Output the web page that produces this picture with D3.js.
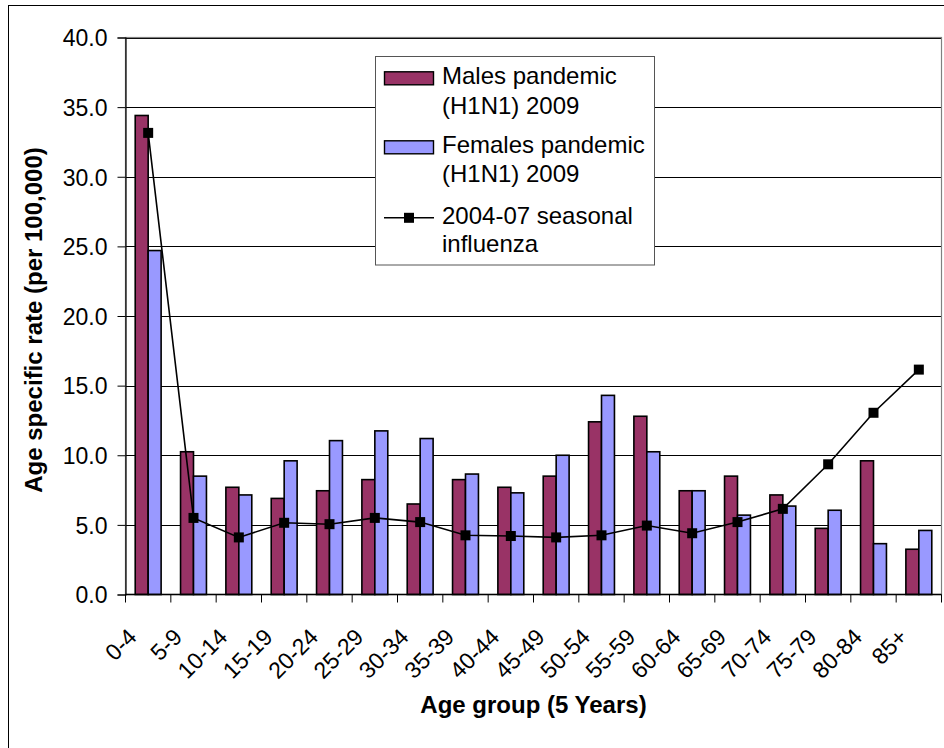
<!DOCTYPE html>
<html>
<head>
<meta charset="utf-8">
<script src="https://cdn.jsdelivr.net/npm/d3@7"></script>
<style>
  html, body { margin: 0; padding: 0; background: #fff; }
  svg { display: block; font-family: "Liberation Sans", Arial, sans-serif; }
</style>
</head>
<body>
<svg id="chart" width="944" height="748"></svg>
<script>
// Age-specific rates per 100,000, by 5-year age group
const ageGroups = ["0-4","5-9","10-14","15-19","20-24","25-29","30-34","35-39","40-44",
  "45-49","50-54","55-59","60-64","65-69","70-74","75-79","80-84","85+"];
const malesH1N1 = [34.4, 10.25, 7.7, 6.9, 7.45, 8.25, 6.5, 8.25, 7.7,
  8.5, 12.4, 12.8, 7.45, 8.5, 7.15, 4.75, 9.6, 3.25];
const femalesH1N1 = [24.7, 8.5, 7.15, 9.6, 11.05, 11.75, 11.2, 8.65, 7.3,
  10.0, 14.3, 10.25, 7.45, 5.7, 6.35, 6.05, 3.65, 4.6];
const seasonal0407 = [33.15, 5.5, 4.1, 5.15, 5.05, 5.5, 5.2, 4.25, 4.2,
  4.1, 4.25, 4.95, 4.4, 5.2, 6.15, 9.35, 13.05, 16.15];
const yTicks = [0, 5, 10, 15, 20, 25, 30, 35, 40];

const seriesNames = ["Males pandemic\n(H1N1) 2009", "Females pandemic\n(H1N1) 2009", "2004-07 seasonal\ninfluenza"];
const barColors = ["#993366", "#9999FF"];

const svg = d3.select("#chart");
const plot = { left: 125.5, right: 941.5, top: 37.5, bottom: 594.5 };

// Outer chart frame
svg.append("rect")
  .attr("x", 8.5).attr("y", 5.5)
  .attr("width", 960).attr("height", 760)
  .attr("fill", "none").attr("stroke", "#000").attr("stroke-width", 1);

const x = d3.scaleBand().domain(ageGroups).range([plot.left, plot.right]).padding(0);
// Excel-style 150% gap: the pair of bars takes 2/3.5 of the band
const step = x.bandwidth();
const groupW = step * 2 / 3.5;
const xs = d3.scaleBand().domain([0, 1]).range([(step - groupW) / 2, (step + groupW) / 2]).padding(0);
const y = d3.scaleLinear().domain([0, 40]).range([plot.bottom, plot.top]);

// Horizontal gridlines
svg.append("g").selectAll("line")
  .data(yTicks.filter(t => t > 0))
  .join("line")
  .attr("x1", plot.left).attr("x2", plot.right)
  .attr("y1", d => Math.round(y(d)) + 0.5).attr("y2", d => Math.round(y(d)) + 0.5)
  .attr("stroke", "#000").attr("stroke-width", 1);

// Plot area border
svg.append("rect")
  .attr("x", plot.left).attr("y", plot.top)
  .attr("width", plot.right - plot.left).attr("height", plot.bottom - plot.top)
  .attr("fill", "none").attr("stroke", "#808080").attr("stroke-width", 1.2);

// Bars
const barData = [];
ageGroups.forEach((g, i) => {
  barData.push({ g, s: 0, v: malesH1N1[i] });
  barData.push({ g, s: 1, v: femalesH1N1[i] });
});
svg.append("g").selectAll("rect")
  .data(barData)
  .join("rect")
  .attr("x", d => x(d.g) + xs(d.s))
  .attr("width", xs.bandwidth())
  .attr("y", d => y(d.v))
  .attr("height", d => y(0) - y(d.v))
  .attr("fill", d => barColors[d.s])
  .attr("stroke", "#000").attr("stroke-width", 1.6);

// Y axis
const yAxis = d3.axisLeft(y).tickValues(yTicks).tickFormat(d3.format(".1f")).tickSize(8).tickPadding(10);
const gy = svg.append("g").attr("transform", `translate(${plot.left},0)`).call(yAxis);
gy.select(".domain").attr("stroke", "#000").attr("stroke-width", 1.2);
gy.selectAll(".tick line").attr("stroke", "#000");
gy.selectAll(".tick text").attr("font-size", 23).attr("fill", "#000")
  .attr("font-family", "Liberation Sans, Arial, sans-serif").attr("dy", "0.36em");

// X axis: ticks at band boundaries
const gx = svg.append("g").attr("transform", `translate(0,${plot.bottom})`);
gx.append("line").attr("x1", plot.left).attr("x2", plot.right).attr("y1", 0).attr("y2", 0)
  .attr("stroke", "#000").attr("stroke-width", 1.4);
gx.selectAll("line.tk")
  .data(ageGroups.concat(["end"]))
  .join("line").attr("class", "tk")
  .attr("x1", (d, i) => i < ageGroups.length ? x(d) : plot.right)
  .attr("x2", (d, i) => i < ageGroups.length ? x(d) : plot.right)
  .attr("y1", 0).attr("y2", 8)
  .attr("stroke", "#000").attr("stroke-width", 1);
gx.selectAll("text")
  .data(ageGroups)
  .join("text")
  .attr("transform", d => `translate(${x(d) + step / 2 - 10},${44}) rotate(-45)`)
  .attr("text-anchor", "end")
  .attr("font-size", 23).attr("fill", "#000")
  .text(d => d);

// Seasonal influenza line with square markers
const cx = d => x(d) + step / 2;
const linePts = ageGroups.map((g, i) => [cx(g), y(seasonal0407[i])]);
svg.append("path")
  .attr("d", d3.line()(linePts))
  .attr("fill", "none").attr("stroke", "#000").attr("stroke-width", 1.6);
svg.append("g").selectAll("rect")
  .data(linePts)
  .join("rect")
  .attr("x", d => d[0] - 5).attr("y", d => d[1] - 5)
  .attr("width", 10).attr("height", 10)
  .attr("fill", "#000");

// Axis titles
svg.append("text")
  .attr("x", (plot.left + plot.right) / 2).attr("y", 713)
  .attr("text-anchor", "middle").attr("font-size", 24).attr("font-weight", "bold")
  .text("Age group (5 Years)");
svg.append("text")
  .attr("transform", `translate(42,${(plot.top + plot.bottom) / 2 + 4}) rotate(-90)`)
  .attr("text-anchor", "middle").attr("font-size", 24).attr("font-weight", "bold")
  .text("Age specific rate (per 100,000)");

// Legend
const lg = svg.append("g");
lg.append("rect")
  .attr("x", 375.5).attr("y", 56.5).attr("width", 279).attr("height", 208.5)
  .attr("fill", "#fff").attr("stroke", "#555").attr("stroke-width", 1);
const lgRows = [
  { y1: 84.3, y2: 114, sym: 0 },
  { y1: 153.3, y2: 181.7, sym: 1 },
  { y1: 224.3, y2: 252.3, sym: 2 }
];
lgRows.forEach((r, i) => {
  const lines = seriesNames[i].split("\n");
  if (r.sym < 2) {
    lg.append("rect").attr("x", 384.5).attr("y", r.y1 - 12.5).attr("width", 49).attr("height", 13)
      .attr("fill", barColors[r.sym]).attr("stroke", "#000").attr("stroke-width", 1.4);
  } else {
    lg.append("line").attr("x1", 384).attr("x2", 434).attr("y1", r.y1 - 6.5).attr("y2", r.y1 - 6.5)
      .attr("stroke", "#000").attr("stroke-width", 1.6);
    lg.append("rect").attr("x", 404).attr("y", r.y1 - 11.5).attr("width", 10).attr("height", 10)
      .attr("fill", "#000");
  }
  lg.append("text").attr("x", 442).attr("y", r.y1).attr("font-size", 24).text(lines[0]);
  lg.append("text").attr("x", 442).attr("y", r.y2).attr("font-size", 24).text(lines[1]);
});
</script>
</body>
</html>
